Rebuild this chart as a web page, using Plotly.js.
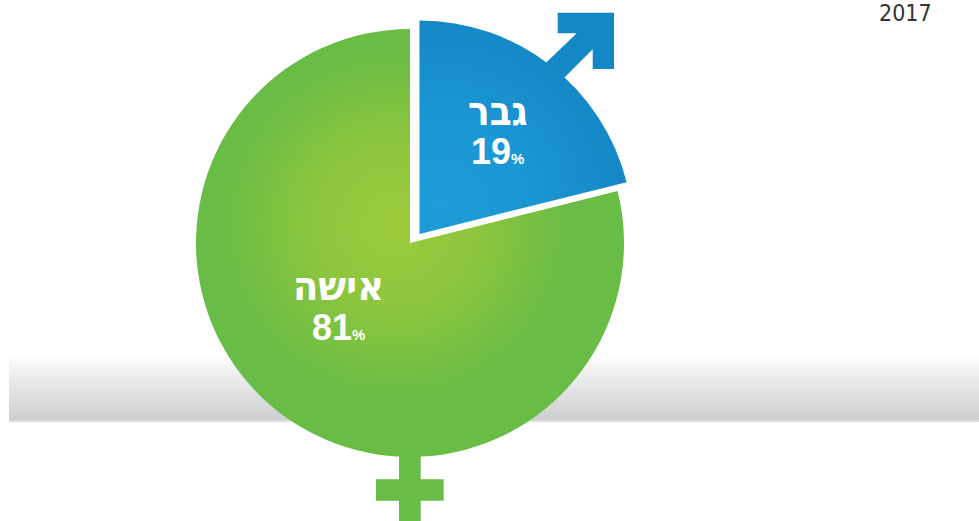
<!DOCTYPE html>
<html lang="he">
<head>
<meta charset="utf-8">
<script src="https://cdn.plot.ly/plotly-3.0.1.min.js"></script>
<style>html,body{margin:0;padding:0;background:#fff;overflow:hidden}#chart{width:979px;height:521px}</style>
</head>
<body>
<div id="chart"></div>
<script>
// Categories and the percentages printed on the chart.
const categories = ['גבר', 'אישה'];
const printedPercent = [19, 81];
// The reference draws its wedges wider than its printed numbers: the blue arc
// spans about 76 degrees, i.e. about 21%, not 19%. To match the picture the
// slices use the measured shares; the labels keep the printed numbers.
const drawnShare = [21.1, 78.9];
const sliceColors = ['#1487C5', '#69BC45'];
const yearLabel = '2017';

const W = 979, H = 521;
const px = x => x / W;
const py = y => 1 - y / H;
const P = pts => 'M' + pts.map(p => px(p[0]) + ',' + py(p[1])).join('L') + 'Z';

const arrow = [[557.7,12.7],[614,12.7],[614,69],[592.7,69],[592.7,49.3],[545,97],[528,80],[576.7,33.3],[557.7,33.3]];
const venus = [[399,440],[420.7,440],[420.7,479.3],[443.7,479.3],[443.7,500.7],[420.7,500.7],[420.7,521],[399,521],[399,500.7],[376,500.7],[376,479.3],[399,479.3]];

const labelPos = [[497.5,111,151.5],[338.5,285.5,327]];
const nameSize = [40,41];
const annotations = [];
categories.forEach((c, i) => {
  annotations.push({xref:'paper',yref:'paper',x:px(labelPos[i][0]),y:py(labelPos[i][1]),xanchor:'center',yanchor:'middle',showarrow:false,
    text:'<b>'+c+'</b>',font:{family:'DejaVu Sans Condensed',size:nameSize[i],color:'#fff'}});
  annotations.push({xref:'paper',yref:'paper',x:px(labelPos[i][0]),y:py(labelPos[i][2]),xanchor:'center',yanchor:'middle',showarrow:false,
    text:'<b>'+printedPercent[i]+'<span style="font-size:15px">%</span></b>',font:{family:'Liberation Sans',size:36,color:'#fff'}});
});
annotations.push({xref:'paper',yref:'paper',x:px(932),y:1,xanchor:'right',yanchor:'top',showarrow:false,
  borderpad:0,borderwidth:0,text:yearLabel,font:{family:'DejaVu Sans Condensed',size:23,color:'#333333'}});

// One wedge per trace so each can sit at its own measured centre.
const data = [
 {type:'pie',labels:categories,values:drawnShare,sort:false,direction:'clockwise',rotation:0,textinfo:'none',hoverinfo:'skip',
  marker:{colors:[sliceColors[0],'rgba(0,0,0,0)'],line:{width:0}},
  domain:{x:[206/W,633/W],y:[1-447.5/H,1-20.5/H]}},
 {type:'pie',labels:categories,values:drawnShare,sort:false,direction:'clockwise',rotation:0,textinfo:'none',hoverinfo:'skip',
  marker:{colors:['rgba(0,0,0,0)',sliceColors[1]],line:{width:0}},
  domain:{x:[196/W,624/W],y:[1-457/H,1-29/H]}}
];

const layout = {
  width:W,height:H,margin:{l:0,r:0,t:0,b:0},
  paper_bgcolor:'#fff',showlegend:false,
  annotations,
  shapes:[
    {type:'rect',xref:'paper',yref:'paper',x0:px(9),x1:1,y0:py(421),y1:py(354),line:{width:0},fillcolor:'#ddd',layer:'below'},
    {type:'rect',xref:'paper',yref:'paper',x0:px(9),x1:1,y0:py(422),y1:py(420),line:{width:0},fillcolor:'#DCDCDD',layer:'below'},
    {type:'path',xref:'paper',yref:'paper',path:P(arrow),fillcolor:sliceColors[0],line:{width:0},layer:'below'},
    {type:'path',xref:'paper',yref:'paper',path:P(venus),fillcolor:sliceColors[1],line:{width:0},layer:'below'}
  ]
};

function applyGradients(gd){
  const svg = gd.querySelector('svg.main-svg');
  const NS='http://www.w3.org/2000/svg';
  const defs = svg.querySelector('defs');
  function grad(tag,id,attrs,stops){
    if(document.getElementById(id)) return;
    const g=document.createElementNS(NS,tag);g.setAttribute('id',id);
    Object.entries(attrs).forEach(([k,v])=>g.setAttribute(k,v));
    stops.forEach(s=>{const e=document.createElementNS(NS,'stop');e.setAttribute('offset',s[0]);e.setAttribute('stop-color',s[1]);g.appendChild(e);});
    defs.appendChild(g);
  }
  // The pie's paths use absolute page coordinates, so the gradient centres do too.
  grad('radialGradient','gBlue',{gradientUnits:'userSpaceOnUse',cx:440,cy:205,r:205},[[0,'#1D9CD8'],[0.45,'#1A96D3'],[1,'#1484C3']]);
  grad('radialGradient','gGreen',{gradientUnits:'userSpaceOnUse',cx:395,cy:225,r:175},[[0,'#9BCB3B'],[0.45,'#8EC63E'],[1,'#69BC45']]);
  grad('linearGradient','gBand',{x1:0,y1:0,x2:0,y2:1},[[0,'#FFFFFF'],[0.2,'#F3F3F4'],[0.45,'#E6E7E8'],[1,'#CDCECF']]);
  svg.querySelectorAll('.pielayer .trace').forEach((t,ti)=>{
    const target=t.querySelectorAll('path.surface')[ti];
    if(target) target.style.setProperty('fill',ti===0?'url(#gBlue)':'url(#gGreen)','important');
  });
  const band=svg.querySelectorAll('.shapelayer path')[0];
  if(band) band.style.setProperty('fill','url(#gBand)','important');
}
Plotly.newPlot('chart',data,layout,{displayModeBar:false,staticPlot:true}).then(gd=>{
  applyGradients(gd);
  gd.on('plotly_afterplot',()=>applyGradients(gd));
  setTimeout(()=>applyGradients(gd),50);
});
</script>
</body>
</html>
